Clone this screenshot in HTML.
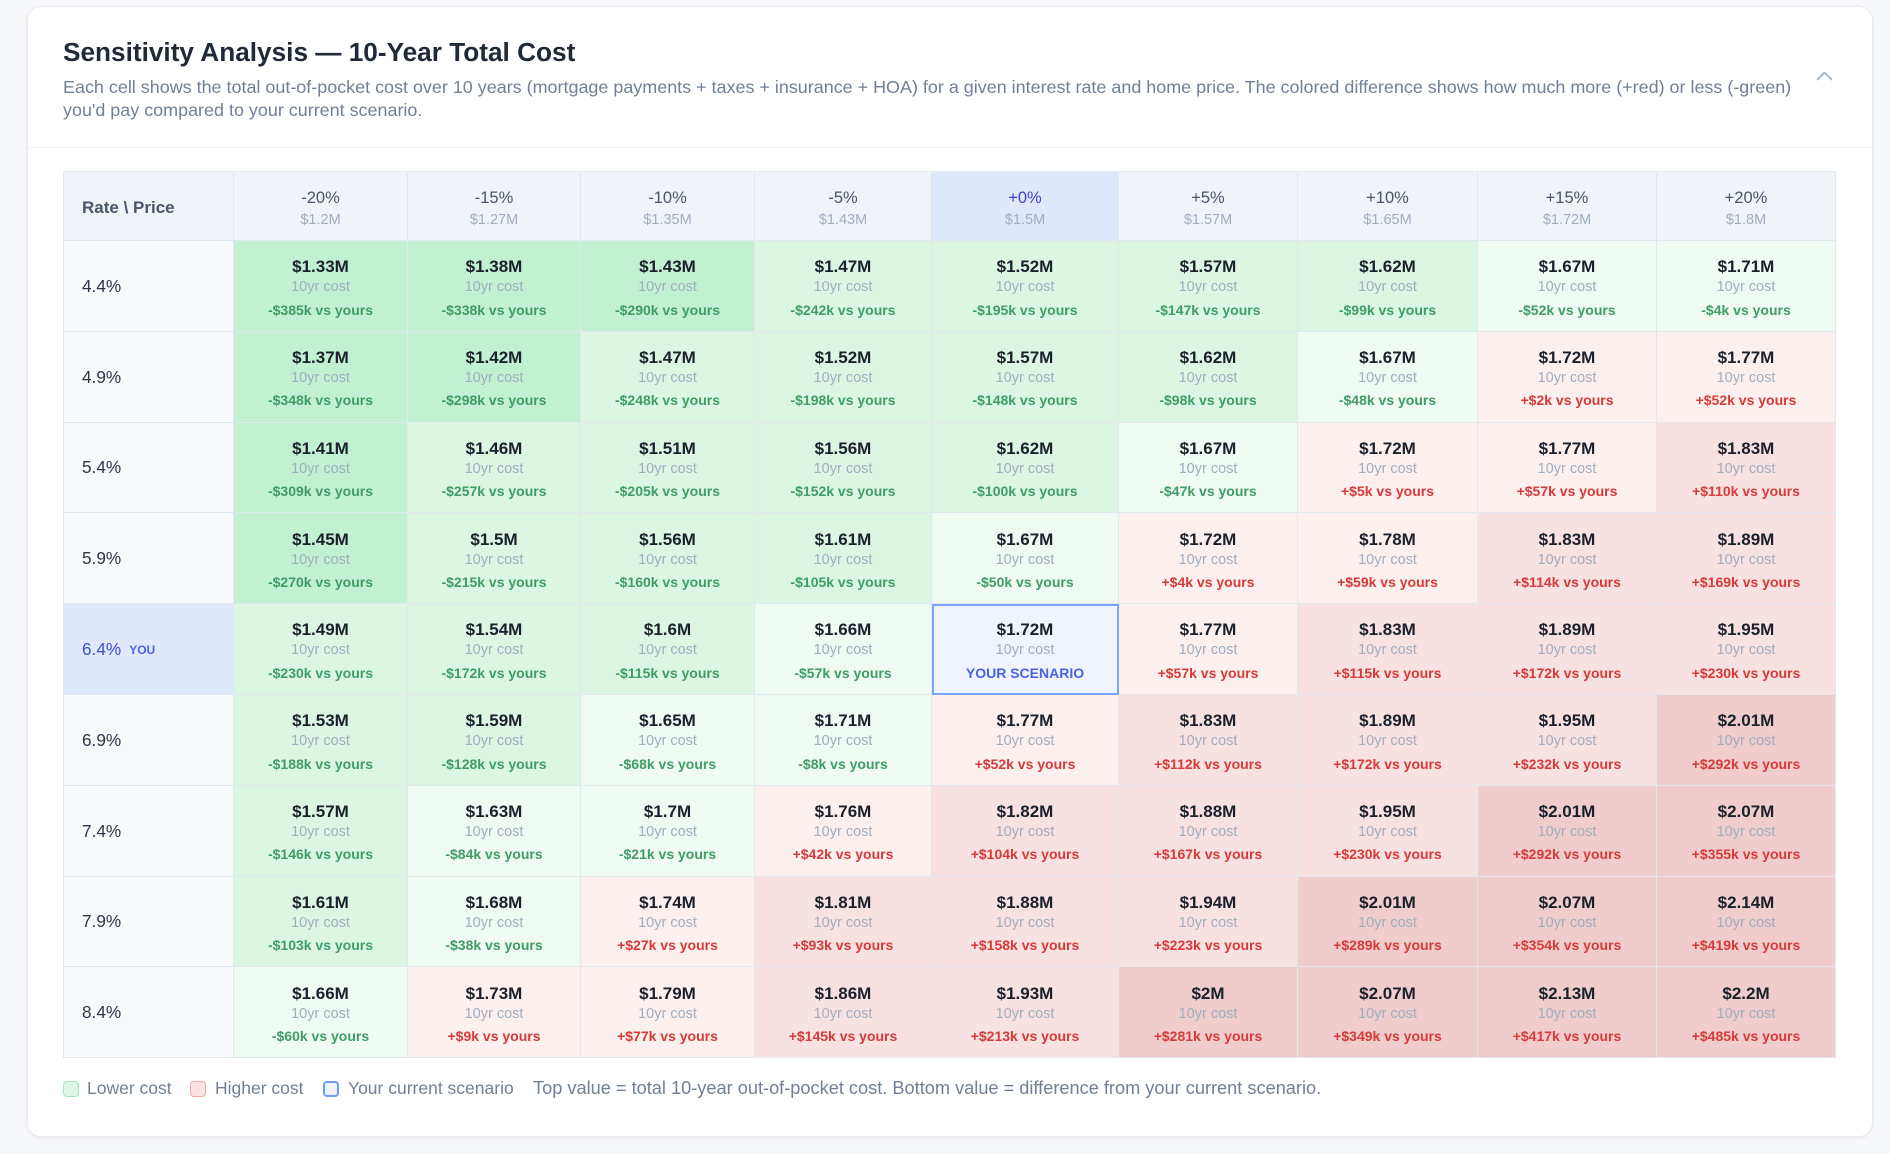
<!DOCTYPE html>
<html>
<head>
<meta charset="utf-8">
<style>
  html,body{margin:0;padding:0;}
  body{width:1890px;height:1154px;background:#f6f7f9;font-family:"Liberation Sans",Arial,sans-serif;position:relative;overflow:hidden;}
  .card{position:absolute;left:27px;top:6px;width:1846px;height:1131px;box-sizing:border-box;background:#fff;border:1px solid #e7ebf0;border-radius:14px;box-shadow:0 1px 3px rgba(30,40,60,0.06);}
  .divider{position:absolute;left:27px;top:147px;width:1846px;height:1px;background:#edf0f4;}
  .title{position:absolute;left:63px;top:36px;font-size:26.2px;line-height:32px;font-weight:bold;color:#1f2937;white-space:nowrap;}
  .desc{position:absolute;left:63px;top:75.5px;font-size:17.95px;line-height:23.5px;color:#718096;white-space:nowrap;}
  .chev{position:absolute;left:1812px;top:66px;}
  .grid{position:absolute;left:63px;top:171px;border-left:1px solid #e2e8f0;border-top:1px solid #e2e8f0;display:grid;
    grid-template-columns:170px 174px 173px 174px 177px 187px 179px 180px 179px 179px;
    grid-template-rows:69px repeat(9,90.8px);}
  .grid > div{box-sizing:border-box;border-right:1px solid #e2e8f0;border-bottom:1px solid #e2e8f0;}
  .h{background:#f0f3f8;text-align:center;padding-top:15.8px;}
  .h .p{display:block;font-size:16.5px;line-height:21px;color:#4a5568;}
  .h .m{display:block;font-size:14.5px;line-height:23px;color:#a0aec0;}
  .h.cur{background:#dfe7fb;}
  .h.cur .p{color:#4343c9;}
  .rp{background:#f0f3f8;display:flex;align-items:center;padding-left:18px;padding-top:3px;font-size:17px;font-weight:bold;color:#4a5568;}
  .r{background:#f8f9fb;display:flex;align-items:center;padding-left:18px;padding-top:1px;font-size:17.2px;color:#2d3748;}
  .r.you{background:#e0e8fb;color:#3d4fcf;}
  .r.you .y{font-size:12px;font-weight:bold;color:#4f63e6;margin-left:8px;}
  .c{text-align:center;padding-top:15.2px;}
  .c .a{display:block;font-size:17px;line-height:21px;font-weight:bold;color:#1a202c;}
  .c .b{display:block;font-size:14.5px;line-height:20.5px;color:#a0aec0;}
  .c .d{display:block;font-size:14px;line-height:24px;font-weight:bold;}
  .n{color:#3f9d64;}
  .pz{color:#d63a3a;}
  .g3{background:#c1f0d3;}
  .g2{background:#dcf6e4;}
  .g1{background:#effaf2;}
  .r1{background:#fcf0ef;}
  .r2{background:#f7e1e1;}
  .r3{background:#f0cccc;}
  .me{background:#eff4ff;outline:2px solid #7aa4f7;outline-offset:-2px;}
  .me .d{color:#4a62e0;}
  .lg{position:absolute;top:1081px;width:16px;height:16px;box-sizing:border-box;border-radius:4px;}
  .lt{position:absolute;top:1077px;font-size:17.5px;line-height:22px;color:#718096;white-space:nowrap;}
</style>
</head>
<body>
<div class="card"></div>
<div class="divider"></div>
<div class="title">Sensitivity Analysis — 10-Year Total Cost</div>
<div class="desc">Each cell shows the total out-of-pocket cost over 10 years (mortgage payments + taxes + insurance + HOA) for a given interest rate and home price. The colored difference shows how much more (+red) or less (-green)<br>you'd pay compared to your current scenario.</div>
<svg class="chev" width="26" height="20" viewBox="0 0 26 20"><polyline points="5.5,13.5 12.5,6.5 19.5,13.5" fill="none" stroke="#a0aec0" stroke-width="1.6" stroke-linecap="round" stroke-linejoin="round"/></svg>

<div class="grid">
  <div class="rp">Rate \ Price</div>
  <div class="h"><span class="p">-20%</span><span class="m">$1.2M</span></div>
  <div class="h"><span class="p">-15%</span><span class="m">$1.27M</span></div>
  <div class="h"><span class="p">-10%</span><span class="m">$1.35M</span></div>
  <div class="h"><span class="p">-5%</span><span class="m">$1.43M</span></div>
  <div class="h cur"><span class="p">+0%</span><span class="m">$1.5M</span></div>
  <div class="h"><span class="p">+5%</span><span class="m">$1.57M</span></div>
  <div class="h"><span class="p">+10%</span><span class="m">$1.65M</span></div>
  <div class="h"><span class="p">+15%</span><span class="m">$1.72M</span></div>
  <div class="h"><span class="p">+20%</span><span class="m">$1.8M</span></div>

  <div class="r">4.4%</div>
  <div class="c g3"><span class="a">$1.33M</span><span class="b">10yr cost</span><span class="d n">-$385k vs yours</span></div>
  <div class="c g3"><span class="a">$1.38M</span><span class="b">10yr cost</span><span class="d n">-$338k vs yours</span></div>
  <div class="c g3"><span class="a">$1.43M</span><span class="b">10yr cost</span><span class="d n">-$290k vs yours</span></div>
  <div class="c g2"><span class="a">$1.47M</span><span class="b">10yr cost</span><span class="d n">-$242k vs yours</span></div>
  <div class="c g2"><span class="a">$1.52M</span><span class="b">10yr cost</span><span class="d n">-$195k vs yours</span></div>
  <div class="c g2"><span class="a">$1.57M</span><span class="b">10yr cost</span><span class="d n">-$147k vs yours</span></div>
  <div class="c g2"><span class="a">$1.62M</span><span class="b">10yr cost</span><span class="d n">-$99k vs yours</span></div>
  <div class="c g1"><span class="a">$1.67M</span><span class="b">10yr cost</span><span class="d n">-$52k vs yours</span></div>
  <div class="c g1"><span class="a">$1.71M</span><span class="b">10yr cost</span><span class="d n">-$4k vs yours</span></div>

  <div class="r">4.9%</div>
  <div class="c g3"><span class="a">$1.37M</span><span class="b">10yr cost</span><span class="d n">-$348k vs yours</span></div>
  <div class="c g3"><span class="a">$1.42M</span><span class="b">10yr cost</span><span class="d n">-$298k vs yours</span></div>
  <div class="c g2"><span class="a">$1.47M</span><span class="b">10yr cost</span><span class="d n">-$248k vs yours</span></div>
  <div class="c g2"><span class="a">$1.52M</span><span class="b">10yr cost</span><span class="d n">-$198k vs yours</span></div>
  <div class="c g2"><span class="a">$1.57M</span><span class="b">10yr cost</span><span class="d n">-$148k vs yours</span></div>
  <div class="c g2"><span class="a">$1.62M</span><span class="b">10yr cost</span><span class="d n">-$98k vs yours</span></div>
  <div class="c g1"><span class="a">$1.67M</span><span class="b">10yr cost</span><span class="d n">-$48k vs yours</span></div>
  <div class="c r1"><span class="a">$1.72M</span><span class="b">10yr cost</span><span class="d pz">+$2k vs yours</span></div>
  <div class="c r1"><span class="a">$1.77M</span><span class="b">10yr cost</span><span class="d pz">+$52k vs yours</span></div>

  <div class="r">5.4%</div>
  <div class="c g3"><span class="a">$1.41M</span><span class="b">10yr cost</span><span class="d n">-$309k vs yours</span></div>
  <div class="c g2"><span class="a">$1.46M</span><span class="b">10yr cost</span><span class="d n">-$257k vs yours</span></div>
  <div class="c g2"><span class="a">$1.51M</span><span class="b">10yr cost</span><span class="d n">-$205k vs yours</span></div>
  <div class="c g2"><span class="a">$1.56M</span><span class="b">10yr cost</span><span class="d n">-$152k vs yours</span></div>
  <div class="c g2"><span class="a">$1.62M</span><span class="b">10yr cost</span><span class="d n">-$100k vs yours</span></div>
  <div class="c g1"><span class="a">$1.67M</span><span class="b">10yr cost</span><span class="d n">-$47k vs yours</span></div>
  <div class="c r1"><span class="a">$1.72M</span><span class="b">10yr cost</span><span class="d pz">+$5k vs yours</span></div>
  <div class="c r1"><span class="a">$1.77M</span><span class="b">10yr cost</span><span class="d pz">+$57k vs yours</span></div>
  <div class="c r2"><span class="a">$1.83M</span><span class="b">10yr cost</span><span class="d pz">+$110k vs yours</span></div>

  <div class="r">5.9%</div>
  <div class="c g3"><span class="a">$1.45M</span><span class="b">10yr cost</span><span class="d n">-$270k vs yours</span></div>
  <div class="c g2"><span class="a">$1.5M</span><span class="b">10yr cost</span><span class="d n">-$215k vs yours</span></div>
  <div class="c g2"><span class="a">$1.56M</span><span class="b">10yr cost</span><span class="d n">-$160k vs yours</span></div>
  <div class="c g2"><span class="a">$1.61M</span><span class="b">10yr cost</span><span class="d n">-$105k vs yours</span></div>
  <div class="c g1"><span class="a">$1.67M</span><span class="b">10yr cost</span><span class="d n">-$50k vs yours</span></div>
  <div class="c r1"><span class="a">$1.72M</span><span class="b">10yr cost</span><span class="d pz">+$4k vs yours</span></div>
  <div class="c r1"><span class="a">$1.78M</span><span class="b">10yr cost</span><span class="d pz">+$59k vs yours</span></div>
  <div class="c r2"><span class="a">$1.83M</span><span class="b">10yr cost</span><span class="d pz">+$114k vs yours</span></div>
  <div class="c r2"><span class="a">$1.89M</span><span class="b">10yr cost</span><span class="d pz">+$169k vs yours</span></div>

  <div class="r you">6.4%<span class="y">YOU</span></div>
  <div class="c g2"><span class="a">$1.49M</span><span class="b">10yr cost</span><span class="d n">-$230k vs yours</span></div>
  <div class="c g2"><span class="a">$1.54M</span><span class="b">10yr cost</span><span class="d n">-$172k vs yours</span></div>
  <div class="c g2"><span class="a">$1.6M</span><span class="b">10yr cost</span><span class="d n">-$115k vs yours</span></div>
  <div class="c g1"><span class="a">$1.66M</span><span class="b">10yr cost</span><span class="d n">-$57k vs yours</span></div>
  <div class="c me"><span class="a">$1.72M</span><span class="b">10yr cost</span><span class="d">YOUR SCENARIO</span></div>
  <div class="c r1"><span class="a">$1.77M</span><span class="b">10yr cost</span><span class="d pz">+$57k vs yours</span></div>
  <div class="c r2"><span class="a">$1.83M</span><span class="b">10yr cost</span><span class="d pz">+$115k vs yours</span></div>
  <div class="c r2"><span class="a">$1.89M</span><span class="b">10yr cost</span><span class="d pz">+$172k vs yours</span></div>
  <div class="c r2"><span class="a">$1.95M</span><span class="b">10yr cost</span><span class="d pz">+$230k vs yours</span></div>

  <div class="r">6.9%</div>
  <div class="c g2"><span class="a">$1.53M</span><span class="b">10yr cost</span><span class="d n">-$188k vs yours</span></div>
  <div class="c g2"><span class="a">$1.59M</span><span class="b">10yr cost</span><span class="d n">-$128k vs yours</span></div>
  <div class="c g1"><span class="a">$1.65M</span><span class="b">10yr cost</span><span class="d n">-$68k vs yours</span></div>
  <div class="c g1"><span class="a">$1.71M</span><span class="b">10yr cost</span><span class="d n">-$8k vs yours</span></div>
  <div class="c r1"><span class="a">$1.77M</span><span class="b">10yr cost</span><span class="d pz">+$52k vs yours</span></div>
  <div class="c r2"><span class="a">$1.83M</span><span class="b">10yr cost</span><span class="d pz">+$112k vs yours</span></div>
  <div class="c r2"><span class="a">$1.89M</span><span class="b">10yr cost</span><span class="d pz">+$172k vs yours</span></div>
  <div class="c r2"><span class="a">$1.95M</span><span class="b">10yr cost</span><span class="d pz">+$232k vs yours</span></div>
  <div class="c r3"><span class="a">$2.01M</span><span class="b">10yr cost</span><span class="d pz">+$292k vs yours</span></div>

  <div class="r">7.4%</div>
  <div class="c g2"><span class="a">$1.57M</span><span class="b">10yr cost</span><span class="d n">-$146k vs yours</span></div>
  <div class="c g1"><span class="a">$1.63M</span><span class="b">10yr cost</span><span class="d n">-$84k vs yours</span></div>
  <div class="c g1"><span class="a">$1.7M</span><span class="b">10yr cost</span><span class="d n">-$21k vs yours</span></div>
  <div class="c r1"><span class="a">$1.76M</span><span class="b">10yr cost</span><span class="d pz">+$42k vs yours</span></div>
  <div class="c r2"><span class="a">$1.82M</span><span class="b">10yr cost</span><span class="d pz">+$104k vs yours</span></div>
  <div class="c r2"><span class="a">$1.88M</span><span class="b">10yr cost</span><span class="d pz">+$167k vs yours</span></div>
  <div class="c r2"><span class="a">$1.95M</span><span class="b">10yr cost</span><span class="d pz">+$230k vs yours</span></div>
  <div class="c r3"><span class="a">$2.01M</span><span class="b">10yr cost</span><span class="d pz">+$292k vs yours</span></div>
  <div class="c r3"><span class="a">$2.07M</span><span class="b">10yr cost</span><span class="d pz">+$355k vs yours</span></div>

  <div class="r">7.9%</div>
  <div class="c g2"><span class="a">$1.61M</span><span class="b">10yr cost</span><span class="d n">-$103k vs yours</span></div>
  <div class="c g1"><span class="a">$1.68M</span><span class="b">10yr cost</span><span class="d n">-$38k vs yours</span></div>
  <div class="c r1"><span class="a">$1.74M</span><span class="b">10yr cost</span><span class="d pz">+$27k vs yours</span></div>
  <div class="c r2"><span class="a">$1.81M</span><span class="b">10yr cost</span><span class="d pz">+$93k vs yours</span></div>
  <div class="c r2"><span class="a">$1.88M</span><span class="b">10yr cost</span><span class="d pz">+$158k vs yours</span></div>
  <div class="c r2"><span class="a">$1.94M</span><span class="b">10yr cost</span><span class="d pz">+$223k vs yours</span></div>
  <div class="c r3"><span class="a">$2.01M</span><span class="b">10yr cost</span><span class="d pz">+$289k vs yours</span></div>
  <div class="c r3"><span class="a">$2.07M</span><span class="b">10yr cost</span><span class="d pz">+$354k vs yours</span></div>
  <div class="c r3"><span class="a">$2.14M</span><span class="b">10yr cost</span><span class="d pz">+$419k vs yours</span></div>

  <div class="r">8.4%</div>
  <div class="c g1"><span class="a">$1.66M</span><span class="b">10yr cost</span><span class="d n">-$60k vs yours</span></div>
  <div class="c r1"><span class="a">$1.73M</span><span class="b">10yr cost</span><span class="d pz">+$9k vs yours</span></div>
  <div class="c r1"><span class="a">$1.79M</span><span class="b">10yr cost</span><span class="d pz">+$77k vs yours</span></div>
  <div class="c r2"><span class="a">$1.86M</span><span class="b">10yr cost</span><span class="d pz">+$145k vs yours</span></div>
  <div class="c r2"><span class="a">$1.93M</span><span class="b">10yr cost</span><span class="d pz">+$213k vs yours</span></div>
  <div class="c r3"><span class="a">$2M</span><span class="b">10yr cost</span><span class="d pz">+$281k vs yours</span></div>
  <div class="c r3"><span class="a">$2.07M</span><span class="b">10yr cost</span><span class="d pz">+$349k vs yours</span></div>
  <div class="c r3"><span class="a">$2.13M</span><span class="b">10yr cost</span><span class="d pz">+$417k vs yours</span></div>
  <div class="c r3"><span class="a">$2.2M</span><span class="b">10yr cost</span><span class="d pz">+$485k vs yours</span></div>
</div>

<div class="lg" style="left:63px;background:#dcf7e5;border:1.5px solid #a3e4bb;"></div>
<div class="lt" style="left:87px;">Lower cost</div>
<div class="lg" style="left:190px;background:#fae3e3;border:1.5px solid #f0aaaa;"></div>
<div class="lt" style="left:215px;">Higher cost</div>
<div class="lg" style="left:323px;background:#eef3ff;border:2.5px solid #6e9bf5;"></div>
<div class="lt" style="left:348px;">Your current scenario</div>
<div class="lt" style="left:533px;font-size:18.2px;">Top value = total 10-year out-of-pocket cost. Bottom value = difference from your current scenario.</div>
</body>
</html>
